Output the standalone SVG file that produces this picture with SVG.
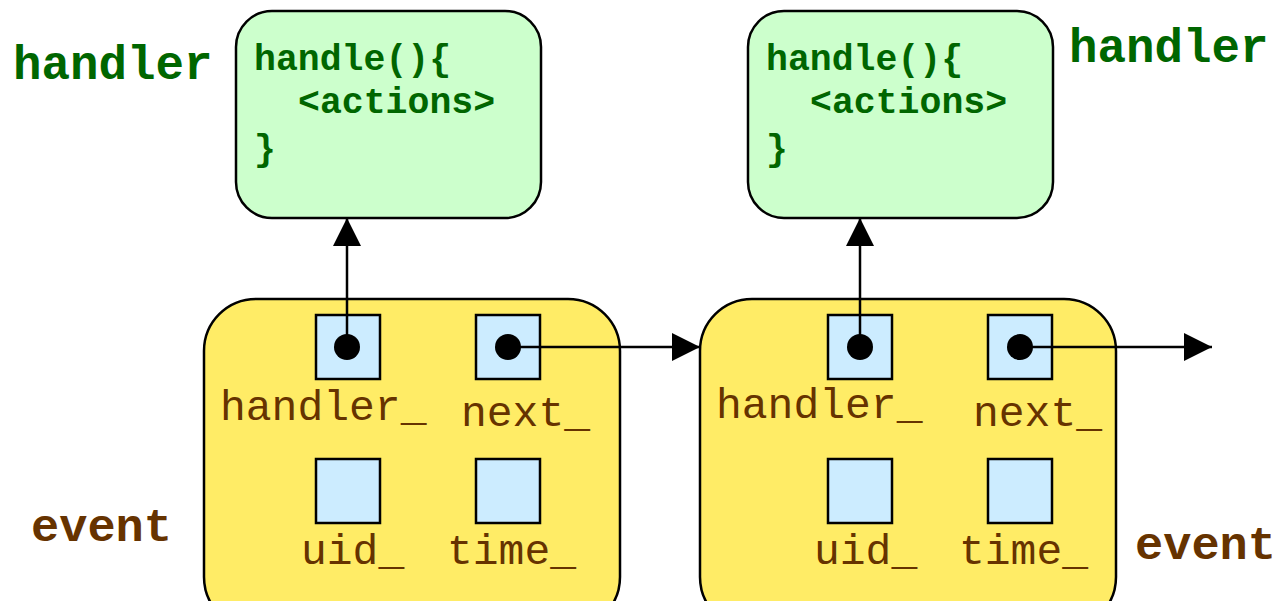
<svg xmlns="http://www.w3.org/2000/svg" width="1282" height="601" viewBox="0 0 1282 601">
  <defs>
    <marker id="arrow" viewBox="0 0 28 28" refX="28" refY="14" markerWidth="28" markerHeight="28" markerUnits="userSpaceOnUse" orient="auto">
      <path d="M0,0 L28,14 L0,28 Z" fill="#000"/>
    </marker>
    <style>
      .event { fill: #FFEC66; stroke: #000; stroke-width: 2.5; }
      .handler { fill: #CCFFCC; stroke: #000; stroke-width: 2.5; }
      .slot { fill: #CCECFF; stroke: #000; stroke-width: 2.5; }
      .dot { fill: #000; }
      .field { font-family: "Liberation Mono", "Courier New", monospace; font-size: 43px; fill: #663300; }
      .code { font-family: "Liberation Mono", "Courier New", monospace; font-size: 36.5px; font-weight: bold; fill: #006600; }
      .title-h { font-family: "Liberation Mono", "Courier New", monospace; font-size: 47.5px; font-weight: bold; fill: #006600; }
      .title-e { font-family: "Liberation Mono", "Courier New", monospace; font-size: 47px; font-weight: bold; fill: #663300; }
      .link { stroke: #000; stroke-width: 2.5; fill: none; marker-end: url(#arrow); }
    </style>
  </defs>

  <rect width="1282" height="601" fill="#fff"/>

  <!-- handler object 1 -->
  <g id="handler1">
    <rect class="handler" x="236" y="11" width="305" height="207" rx="36"/>
    <text class="code" x="254" y="70">handle(){</text>
    <text class="code" x="298" y="113">&lt;actions&gt;</text>
    <text class="code" x="254" y="160">}</text>
    <text class="title-h" x="13" y="79">handler</text>
  </g>

  <!-- handler object 2 -->
  <g id="handler2">
    <rect class="handler" x="748" y="11" width="305" height="207" rx="36"/>
    <text class="code" x="766" y="70">handle(){</text>
    <text class="code" x="810" y="113">&lt;actions&gt;</text>
    <text class="code" x="766" y="160">}</text>
    <text class="title-h" x="1069" y="62">handler</text>
  </g>

  <!-- event object 1 -->
  <g id="event1">
    <rect class="event" x="204" y="299" width="416" height="330" rx="52"/>
    <rect class="slot" x="316" y="315" width="64" height="64"/>
    <rect class="slot" x="476" y="315" width="64" height="64"/>
    <rect class="slot" x="316" y="459" width="64" height="64"/>
    <rect class="slot" x="476" y="459" width="64" height="64"/>
    <text class="field" x="220" y="420">handler_</text>
    <text class="field" x="461" y="426">next_</text>
    <text class="field" x="301" y="564">uid_</text>
    <text class="field" x="447" y="564">time_</text>
    <text class="title-e" x="31" y="541">event</text>
  </g>

  <!-- event object 2 -->
  <g id="event2">
    <rect class="event" x="700" y="299" width="416" height="330" rx="52"/>
    <rect class="slot" x="828" y="315" width="64" height="64"/>
    <rect class="slot" x="988" y="315" width="64" height="64"/>
    <rect class="slot" x="828" y="459" width="64" height="64"/>
    <rect class="slot" x="988" y="459" width="64" height="64"/>
    <text class="field" x="716" y="418">handler_</text>
    <text class="field" x="973" y="426">next_</text>
    <text class="field" x="814" y="564">uid_</text>
    <text class="field" x="959" y="564">time_</text>
    <text class="title-e" x="1135" y="559">event</text>
  </g>

  <!-- pointers -->
  <g id="connectors">
    <line class="link" x1="347" y1="347" x2="347" y2="218"/>
    <line class="link" x1="508" y1="347" x2="700" y2="347"/>
    <line class="link" x1="860" y1="347" x2="860" y2="218"/>
    <line class="link" x1="1020" y1="347" x2="1212" y2="347"/>
    <circle class="dot" cx="347" cy="347" r="13"/>
    <circle class="dot" cx="508" cy="347" r="13"/>
    <circle class="dot" cx="860" cy="347" r="13"/>
    <circle class="dot" cx="1020" cy="347" r="13"/>
  </g>
</svg>
